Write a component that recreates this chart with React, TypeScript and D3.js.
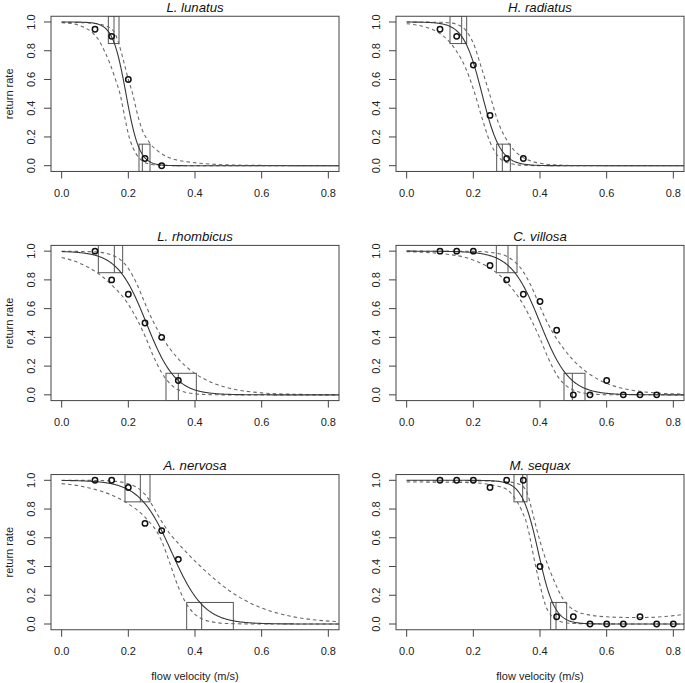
import React from "react";
import * as d3 from "d3";

// ---------- data ----------
const species = ["L. lunatus", "H. radiatus", "L. rhombicus", "C. villosa", "A. nervosa", "M. sequax"];

const obsX: number[][] = [
  [0.1, 0.15, 0.2, 0.25, 0.3],
  [0.1, 0.15, 0.2, 0.25, 0.3, 0.35],
  [0.1, 0.15, 0.2, 0.25, 0.3, 0.35],
  [0.1, 0.15, 0.2, 0.25, 0.3, 0.35, 0.4, 0.45, 0.5, 0.55, 0.6, 0.65, 0.7, 0.75],
  [0.1, 0.15, 0.2, 0.25, 0.3, 0.35],
  [0.1, 0.15, 0.2, 0.25, 0.3, 0.35, 0.4, 0.45, 0.5, 0.55, 0.6, 0.65, 0.7, 0.75, 0.8],
];
const obsY: number[][] = [
  [0.95, 0.9, 0.6, 0.05, 0.0],
  [0.95, 0.9, 0.7, 0.35, 0.05, 0.05],
  [1.0, 0.8, 0.7, 0.5, 0.4, 0.1],
  [1.0, 1.0, 1.0, 0.9, 0.8, 0.7, 0.65, 0.45, 0.0, 0.0, 0.1, 0.0, 0.0, 0.0],
  [1.0, 1.0, 0.95, 0.7, 0.65, 0.45],
  [1.0, 1.0, 1.0, 0.95, 1.0, 1.0, 0.4, 0.05, 0.05, 0.0, 0.0, 0.0, 0.05, 0.0, 0.0],
];

// fitted logistic curve: velocity at 50 % return and slope
const fitMid = [0.193, 0.226, 0.254, 0.4005, 0.33, 0.395];
const fitSlope = [50, 36, 22.9, 22.8, 20.5, 41];

// lower / upper confidence curves (x, return rate)
const lowerBand: number[][][] = [
  [[0, 0.995], [0.04, 0.985], [0.065, 0.965], [0.095, 0.92], [0.115, 0.86], [0.13, 0.79], [0.145, 0.71], [0.16, 0.61], [0.175, 0.5], [0.19, 0.33], [0.2, 0.22], [0.215, 0.12], [0.23, 0.06], [0.25, 0.023], [0.27, 0.008], [0.3, 0.002], [0.4, 0], [0.84, 0]],
  [[0, 0.988], [0.05, 0.969], [0.1, 0.92], [0.125, 0.87], [0.15, 0.795], [0.175, 0.69], [0.2, 0.535], [0.225, 0.34], [0.25, 0.165], [0.275, 0.064], [0.3, 0.022], [0.35, 0.003], [0.4, 0], [0.84, 0]],
  [[0, 0.956], [0.05, 0.92], [0.1, 0.86], [0.15, 0.765], [0.2, 0.63], [0.225, 0.53], [0.25, 0.41], [0.275, 0.27], [0.3, 0.155], [0.35, 0.035], [0.4, 0.007], [0.45, 0.001], [0.5, 0], [0.84, 0]],
  [[0, 0.996], [0.1, 0.984], [0.2, 0.938], [0.25, 0.882], [0.3, 0.784], [0.35, 0.627], [0.375, 0.516], [0.4, 0.392], [0.425, 0.254], [0.45, 0.14], [0.475, 0.07], [0.5, 0.033], [0.55, 0.0066], [0.6, 0.001], [0.84, 0]],
  [[0, 0.977], [0.05, 0.962], [0.1, 0.937], [0.15, 0.897], [0.2, 0.836], [0.25, 0.743], [0.3, 0.578], [0.325, 0.42], [0.35, 0.257], [0.375, 0.138], [0.4, 0.067], [0.45, 0.015], [0.5, 0.003], [0.6, 0], [0.84, 0]],
  [[0, 0.988], [0.1, 0.987], [0.2, 0.983], [0.25, 0.97], [0.3, 0.937], [0.32, 0.89], [0.345, 0.79], [0.36, 0.7], [0.37, 0.6], [0.38, 0.48], [0.39, 0.37], [0.4, 0.27], [0.415, 0.14], [0.435, 0.055], [0.45, 0.028], [0.47, 0.012], [0.5, 0.004], [0.55, 0.001], [0.84, 0]],
];
const upperBand: number[][][] = [
  [[0, 0.999], [0.1, 0.99], [0.13, 0.975], [0.15, 0.95], [0.16, 0.92], [0.17, 0.86], [0.18, 0.78], [0.19, 0.69], [0.2, 0.6], [0.213, 0.5], [0.225, 0.38], [0.24, 0.26], [0.265, 0.156], [0.29, 0.1], [0.315, 0.063], [0.345, 0.04], [0.375, 0.028], [0.43, 0.014], [0.495, 0.006], [0.6, 0.002], [0.84, 0]],
  [[0, 1], [0.1, 0.998], [0.125, 0.995], [0.15, 0.984], [0.175, 0.948], [0.2, 0.852], [0.225, 0.677], [0.25, 0.49], [0.275, 0.3], [0.3, 0.18], [0.325, 0.1], [0.35, 0.056], [0.4, 0.017], [0.45, 0.005], [0.5, 0.0015], [0.84, 0]],
  [[0, 0.9998], [0.1, 0.995], [0.15, 0.973], [0.2, 0.88], [0.225, 0.774], [0.25, 0.637], [0.275, 0.508], [0.3, 0.406], [0.35, 0.25], [0.4, 0.149], [0.45, 0.086], [0.5, 0.048], [0.6, 0.014], [0.7, 0.004], [0.84, 0.001]],
  [[0, 1], [0.2, 0.9987], [0.25, 0.992], [0.3, 0.964], [0.35, 0.856], [0.375, 0.75], [0.4, 0.613], [0.425, 0.49], [0.45, 0.39], [0.475, 0.31], [0.5, 0.24], [0.55, 0.142], [0.6, 0.08], [0.65, 0.044], [0.7, 0.024], [0.75, 0.013], [0.84, 0.005]],
  [[0, 1], [0.1, 0.999], [0.15, 0.995], [0.2, 0.976], [0.25, 0.902], [0.3, 0.714], [0.325, 0.627], [0.35, 0.56], [0.375, 0.497], [0.4, 0.438], [0.45, 0.33], [0.5, 0.237], [0.55, 0.165], [0.6, 0.111], [0.65, 0.074], [0.7, 0.048], [0.75, 0.031], [0.84, 0.015]],
  [[0, 0.997], [0.2, 0.996], [0.3, 0.99], [0.34, 0.97], [0.36, 0.92], [0.375, 0.8], [0.39, 0.66], [0.41, 0.5], [0.43, 0.37], [0.45, 0.26], [0.47, 0.17], [0.5, 0.1], [0.55, 0.062], [0.6, 0.05], [0.65, 0.046], [0.7, 0.045], [0.75, 0.048], [0.8, 0.058], [0.84, 0.07]],
];

// boxes: [lower CI, estimate, upper CI] of velocity at 90 % and 10 % return
const topBox = [
  [0.14, 0.157, 0.172],
  [0.13, 0.165, 0.18],
  [0.11, 0.158, 0.183],
  [0.269, 0.304, 0.331],
  [0.19, 0.236, 0.265],
  [0.322, 0.348, 0.361],
];
const bottomBox = [
  [0.232, 0.242, 0.265],
  [0.27, 0.287, 0.311],
  [0.313, 0.35, 0.404],
  [0.472, 0.497, 0.535],
  [0.375, 0.42, 0.515],
  [0.432, 0.448, 0.48],
];
const boxLevels = [0.85, 0.15];

const xTicks = [0, 0.2, 0.4, 0.6, 0.8];
const yTicks = [0, 0.2, 0.4, 0.6, 0.8, 1.0];
const xLabel = "flow velocity (m/s)";
const yLabel = "return rate";

// ---------- layout ----------
const W = 685;
const H = 683;
const colLeft = [51, 396];
const boxW = 288;
const rowTop = [16.25, 245.4, 474.55];
const boxH = 155.2;
const FONT = "'Liberation Sans', Arial, Helvetica, sans-serif";
const fmt = d3.format(".1f");

function Panel({ i }: { i: number }) {
  const col = i % 2;
  const row = Math.floor(i / 2);
  const x0 = colLeft[col];
  const y0 = rowTop[row];
  const x = d3.scaleLinear().domain([-0.032, 0.832]).range([x0, x0 + boxW]);
  const y = d3.scaleLinear().domain([-0.04, 1.04]).range([y0 + boxH, y0]);
  const line = d3
    .line<number[]>()
    .x((d) => x(d[0]))
    .y((d) => y(d[1]));
  const bandLine = line.curve(d3.curveMonotoneX);
  const solidLine = d3
    .line<number[]>()
    .x((d) => x(d[0]))
    .y((d) => y(d[1]));
  const xs = d3.range(0, 0.8405, 0.002);
  const fit = xs.map((v) => [v, 1 / (1 + Math.exp(fitSlope[i] * (v - fitMid[i])))]);
  const clipId = `clip${i}`;
  const bottom = y0 + boxH;
  const boxes = [topBox[i], bottomBox[i]];

  return (
    <g>
      <defs>
        <clipPath id={clipId}>
          <rect x={x0} y={y0} width={boxW} height={boxH} />
        </clipPath>
      </defs>
      <g clipPath={`url(#${clipId})`}>
        {boxes.map((b, k) => {
          const yA = k === 0 ? y(1.04) : y(boxLevels[1]);
          const yB = k === 0 ? y(boxLevels[0]) : y(-0.04);
          return (
            <g key={k} stroke="#555" strokeWidth={1} fill="none">
              <rect x={x(b[0])} y={yA} width={x(b[2]) - x(b[0])} height={yB - yA} />
              <line x1={x(b[1])} x2={x(b[1])} y1={yA} y2={yB} />
            </g>
          );
        })}
        <path d={bandLine(lowerBand[i]) || ""} fill="none" stroke="#6a6a6a" strokeWidth={1.1} strokeDasharray="3.5,3" />
        <path d={bandLine(upperBand[i]) || ""} fill="none" stroke="#6a6a6a" strokeWidth={1.1} strokeDasharray="3.5,3" />
        <path d={solidLine(fit) || ""} fill="none" stroke="#383838" strokeWidth={1.1} />
        {obsX[i].map((vx, k) => (
          <circle key={k} cx={x(vx)} cy={y(obsY[i][k])} r={2.7} fill="none" stroke="#111" strokeWidth={1.5} />
        ))}
      </g>
      <rect x={x0} y={y0} width={boxW} height={boxH} fill="none" stroke="#444" strokeWidth={1} />
      {xTicks.map((t) => (
        <g key={t}>
          <line x1={x(t)} x2={x(t)} y1={bottom} y2={bottom + 7} stroke="#444" />
          <text x={x(t)} y={bottom + 25.5} textAnchor="middle" fontSize={11} fill="#222" fontFamily={FONT}>
            {fmt(t)}
          </text>
        </g>
      ))}
      {yTicks.map((t) => (
        <g key={t}>
          <line x1={x0} x2={x0 - 7} y1={y(t)} y2={y(t)} stroke="#444" />
          <text
            transform={`translate(${x0 - 19.5},${y(t)}) rotate(-90)`}
            textAnchor="middle"
            dy="0.36em"
            fontSize={11}
            fill="#222"
            fontFamily={FONT}
          >
            {fmt(t)}
          </text>
        </g>
      ))}
      <text
        x={x0 + boxW / 2}
        y={y0 - 4.5}
        textAnchor="middle"
        fontSize={13.2}
        fontStyle="italic"
        fill="#111"
        fontFamily={FONT}
      >
        {species[i]}
      </text>
      {col === 0 && (
        <text
          transform={`translate(10,${y0 + boxH / 2}) rotate(-90)`}
          textAnchor="middle"
          dy="0.3em"
          fontSize={11}
          fill="#222"
          fontFamily={FONT}
        >
          {yLabel}
        </text>
      )}
      {row === 2 && (
        <text x={x0 + boxW / 2} y={679.5} textAnchor="middle" fontSize={11} fill="#222" fontFamily={FONT}>
          {xLabel}
        </text>
      )}
    </g>
  );
}

export default function App() {
  return (
    <svg
      width={W}
      height={H}
      viewBox={`0 0 ${W} ${H}`}
      style={{ position: "absolute", left: 0, top: 0, background: "#fff" }}
    >
      <rect x={0} y={0} width={W} height={H} fill="#fff" />
      {species.map((_, i) => (
        <Panel key={i} i={i} />
      ))}
    </svg>
  );
}
